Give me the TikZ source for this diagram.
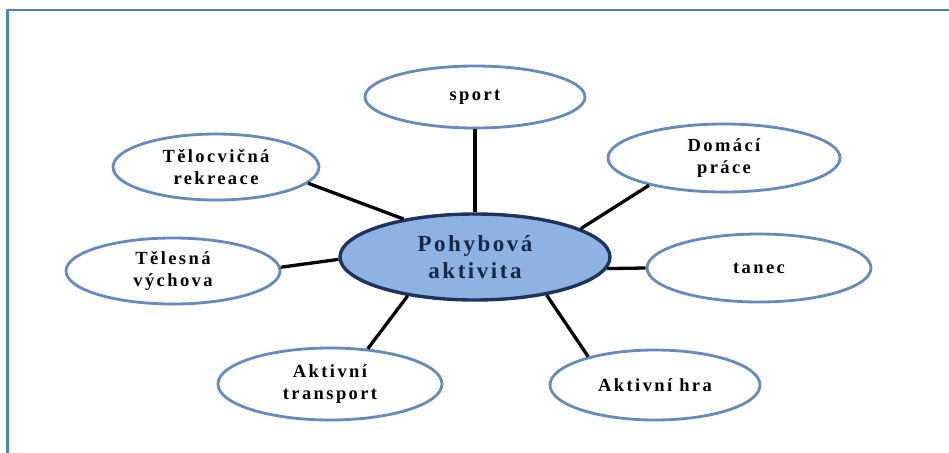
\documentclass[tikz,border=0pt]{standalone}
\usepackage{fontspec}
\setmainfont{Liberation Serif}
\newfontfamily\lblfont[LetterSpace=13]{Liberation Serif}
\newfontfamily\corefont[LetterSpace=11]{Liberation Serif}
\usetikzlibrary{shapes.geometric}
\definecolor{framebl}{RGB}{79,129,189}
\definecolor{ringbl}{RGB}{100,138,190}
\definecolor{corefill}{RGB}{142,178,226}
\definecolor{coreline}{RGB}{30,52,92}
\definecolor{coretext}{RGB}{22,40,70}
\tikzset{
  leaf/.style={ellipse, draw=ringbl, line width=2.8pt, fill=white, inner sep=0pt,
    align=center, text=black, font=\lblfont\bfseries\fontsize{18.5}{22}\selectfont},
  core/.style={ellipse, draw=coreline, line width=3.4pt, fill=corefill, inner sep=0pt,
    align=center, text=coretext, font=\corefont\bfseries\fontsize{23}{27}\selectfont},
  link/.style={draw=black, line width=3.3pt}
}
\begin{document}
\begin{tikzpicture}[x=1pt,y=-1pt]
\useasboundingbox (0,0) rectangle (949,452);
\draw[framebl, line width=2.8pt] (7.5,453) -- (7.5,10) -- (950,10);
\node[core, minimum width=270pt, minimum height=86pt] (C) at (475,257) {Pohybová\\aktivita};
\node[leaf, minimum width=220pt, minimum height=62pt] (S) at (475,97) {sport};
\node[leaf, minimum width=206pt, minimum height=66pt] (T) at (216,167) {Tělocvičná\\rekreace};
\node[leaf, minimum width=232pt, minimum height=68pt] (D) at (724,158) {Domácí\\práce};
\node[leaf, minimum width=214pt, minimum height=66pt] (V) at (173,271) {Tělesná\\výchova};
\node[leaf, minimum width=224pt, minimum height=68pt] (N) at (759,268) {tanec};
\node[leaf, minimum width=224pt, minimum height=72pt] (A) at (330,384) {Aktivní\\transport};
\node[leaf, minimum width=210pt, minimum height=70pt] (H) at (655,385) {Aktivní hra};
\draw[link] (S.-90) -- (C.90);
\draw[link] (T.-10) -- (C.152);
\draw[link] (D.200) -- (C.15);
\draw[link] (V.2) -- (C.181);
\draw[link] (N.180) -- (C.-5);
\draw[link] (A.43) -- (C.210);
\draw[link] (H.157) -- (C.-28);
\end{tikzpicture}
\end{document}
